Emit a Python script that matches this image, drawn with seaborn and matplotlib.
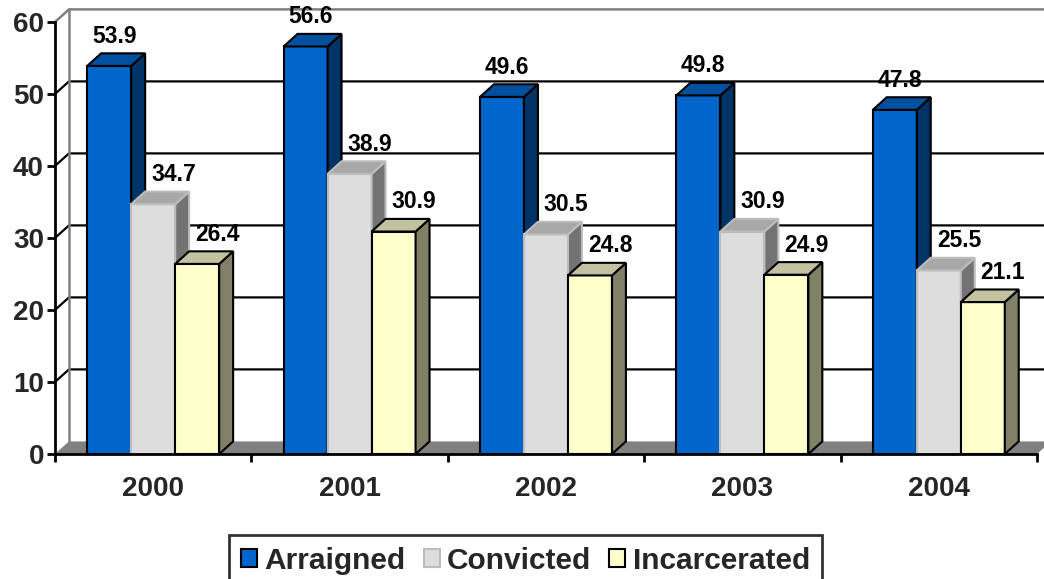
import matplotlib
matplotlib.use("Agg")
import matplotlib.pyplot as plt
from matplotlib.patches import Polygon, Patch
from matplotlib.lines import Line2D
import seaborn as sns
import pandas as pd

# Values per year for each stage
years = ["2000", "2001", "2002", "2003", "2004"]
series = ["Arraigned", "Convicted", "Incarcerated"]
arraigned = [53.9, 56.6, 49.6, 49.8, 47.8]
convicted = [34.7, 38.9, 30.5, 30.9, 25.5]
incarcerated = [26.4, 30.9, 24.8, 24.9, 21.1]
y_ticks = [0, 10, 20, 30, 40, 50, 60]

# Colours: front face, top face, side face, edge
front_colors = ["#0066CC", "#DDDDDD", "#FFFFCC"]
top_colors = ["#0050A0", "#A8A8A8", "#C2C2A0"]
side_colors = ["#003366", "#737373", "#808066"]
edge_colors = ["black", "#BDBDBD", "black"]
# horizontal nudge of the value labels (points)
label_nudge = [-1.5, 9.5, 9.5]

df = pd.DataFrame({
    "year": years * 3,
    "value": arraigned + convicted + incarcerated,
    "series": [s for s in series for _ in years],
})

sns.set_theme(style="white")
plt.rcParams["font.family"] = ["Liberation Sans", "DejaVu Sans"]
plt.rcParams["font.weight"] = "bold"

fig = plt.figure(figsize=(10.44, 5.79), dpi=100)
ax = fig.add_axes([55 / 1044, 125 / 579, 982 / 1044, 432 / 579])

sns.barplot(data=df, x="year", y="value", hue="series", hue_order=series,
            palette=front_colors, saturation=1, width=0.672, ax=ax,
            legend=False, errorbar=None)

ax.set_xlim(-0.5, 4.5)
ax.set_ylim(0, 60)

# depth of the 3-D effect in data units
ddx = 0.071
ddy = 1.75

# floor
floor = Polygon([(-0.5, 0), (4.5, 0), (4.5 + ddx, ddy), (-0.5 + ddx, ddy)],
                closed=True, facecolor="#808080", edgecolor="none",
                zorder=1, clip_on=False)
ax.add_patch(floor)

# back-wall gridlines with the diagonal across the side wall
for v in y_ticks[1:-1]:
    ax.add_line(Line2D([-0.5, -0.5 + ddx, 4.5 + ddx], [v, v + ddy, v + ddy],
                       color="black", lw=1.6, zorder=0.5, clip_on=False))
# wall outline
ax.add_line(Line2D([-0.5, -0.5 + ddx, 4.5 + ddx], [60, 60 + ddy, 60 + ddy],
                   color="#808080", lw=1.8, zorder=0.6, clip_on=False))
ax.add_line(Line2D([-0.5 + ddx, -0.5 + ddx], [ddy, 60 + ddy],
                   color="#808080", lw=1.8, zorder=0.6, clip_on=False))

# extrude bars and label them
for i, cont in enumerate(ax.containers):
    z = 3 + i
    for bar in cont:
        x0, w, h = bar.get_x(), bar.get_width(), bar.get_height()
        bar.set_edgecolor(edge_colors[i])
        bar.set_linewidth(1.5)
        bar.set_zorder(z)
        side = Polygon([(x0 + w, 0), (x0 + w, h), (x0 + w + ddx, h + ddy),
                        (x0 + w + ddx, ddy)], closed=True,
                       facecolor=side_colors[i], edgecolor=edge_colors[i],
                       lw=1.5, zorder=z, joinstyle="miter")
        top = Polygon([(x0, h), (x0 + w, h), (x0 + w + ddx, h + ddy),
                       (x0 + ddx, h + ddy)], closed=True,
                      facecolor=top_colors[i], edgecolor=edge_colors[i],
                      lw=1.5, zorder=z, joinstyle="miter")
        ax.add_patch(side)
        ax.add_patch(top)
        ax.annotate(f"{h:.1f}", (x0 + w / 2 + ddx / 2, h + ddy),
                    xytext=(label_nudge[i], 4), textcoords="offset points",
                    ha="center", va="bottom", fontsize=16.5,
                    fontweight="bold", color="black", zorder=10)

# axes styling
for s in ["top", "right"]:
    ax.spines[s].set_visible(False)
for s in ["left", "bottom"]:
    ax.spines[s].set_color("black")
    ax.spines[s].set_linewidth(2)
    ax.spines[s].set_zorder(8)

ax.set_yticks(y_ticks)
ax.set_yticklabels([str(t) for t in y_ticks], fontsize=20, fontweight="bold")
ax.tick_params(axis="y", which="major", direction="out", length=6,
               width=2, color="black", pad=2, left=True)
ax.set_xticks(range(len(years)))
ax.set_xticklabels(years, fontsize=20, fontweight="bold")
ax.set_xticks([-0.5 + k for k in range(len(years) + 1)], minor=True)
ax.tick_params(axis="x", which="major", length=0, pad=16)
ax.tick_params(axis="x", which="minor", direction="out", length=6,
               width=2, color="black", bottom=True)
ax.set_xlabel("")
ax.set_ylabel("")
ax.grid(False)

handles = [Patch(facecolor=front_colors[i], edgecolor=edge_colors[i],
                 linewidth=1.5, label=series[i]) for i in range(3)]
leg = fig.legend(handles=handles, loc="upper center",
                 bbox_to_anchor=(525.5 / 1044, 1 - 535 / 579), ncol=3,
                 frameon=True, fancybox=False,
                 prop={"weight": "bold", "size": 21.5},
                 handlelength=0.54, handleheight=0.54, handletextpad=0.25,
                 columnspacing=0.6, borderpad=0.4, borderaxespad=0)
leg.get_frame().set_edgecolor("black")
leg.get_frame().set_linewidth(2)

fig.savefig("out.png", dpi=100)
